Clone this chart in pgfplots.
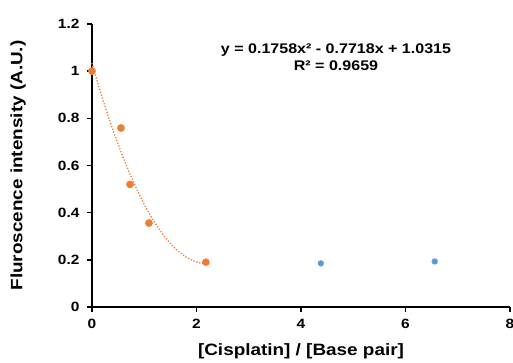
\documentclass[border=0pt]{standalone}
\usepackage{fontspec}
\setmainfont{Liberation Sans}[BoldFont={Liberation Sans Bold}, FakeStretch=1.15]
\usepackage{pgfplots}
\pgfplotsset{compat=1.18}
\definecolor{exorange}{RGB}{237,125,49}
\definecolor{exblue}{RGB}{91,155,213}
\begin{document}
\begin{tikzpicture}[x=1bp,y=1bp]
\useasboundingbox (-92bp,-56bp) rectangle (421bp,307bp);
\begin{axis}[
  at={(0,0)}, anchor=origin,
  scale only axis, width=418bp, height=283bp,
  xmin=0, xmax=8, ymin=0, ymax=1.2,
  xtick={0,2,4,6,8}, ytick={0,0.2,0.4,0.6,0.8,1,1.2},
  yticklabels={0,0.2,0.4,0.6,0.8,1,1.2},
  axis x line*=bottom, axis y line*=left,
  axis line style={line width=1.6pt,-},
  tick style={line width=1.4pt, black},
  tick align=outside, major tick length=5bp,
  /pgf/number format/assume math mode=true,
  ticklabel style={font=\bfseries\fontsize{13.5}{15}\selectfont},
  xticklabel style={yshift=-4bp},
  yticklabel style={xshift=-4bp},
  xlabel={[Cisplatin] / [Base pair]},
  ylabel={Fluroscence intensity (A.U.)},
  label style={font=\bfseries\fontsize{16.5}{18}\selectfont},
  xlabel style={at={(axis description cs:0.5,0)}, yshift=-44bp, anchor=center},
  ylabel style={at={(axis description cs:-0.177,0.5)}, anchor=center},
  clip=false,
]
\addplot[exorange, line width=1.8pt, line cap=round, dash pattern=on 0pt off 3pt, smooth] coordinates {
(0,1.0315)(0.2,0.8842)(0.4,0.7509)(0.6,0.6317)(0.8,0.5266)(1.0,0.4355)(1.2,0.3585)(1.4,0.2956)(1.6,0.2467)(1.8,0.2119)(2.0,0.1911)(2.15,0.1848)};
\addplot[only marks, mark=*, mark size=3.6bp, exorange, mark options={draw=exorange, fill=exorange}] coordinates {
(0,1.0)(0.555,0.759)(0.727,0.52)(1.09,0.356)(2.18,0.19)};
\addplot[only marks, mark=*, mark size=2.9bp, exblue, mark options={draw=exblue, fill=exblue}] coordinates {
(4.38,0.185)(6.56,0.193)};
\node[font=\bfseries\fontsize{14}{17}\selectfont, align=center] at (axis cs:4.67,1.06) {y = 0.1758x² - 0.7718x + 1.0315\\R² = 0.9659};
\end{axis}
\end{tikzpicture}
\end{document}
